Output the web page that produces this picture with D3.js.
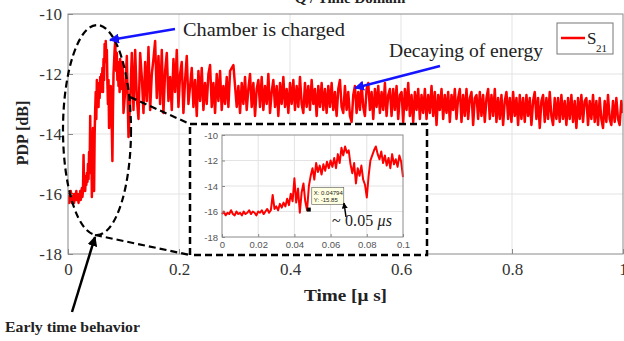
<!DOCTYPE html>
<html>
<head>
<meta charset="utf-8">
<script src="https://cdn.jsdelivr.net/npm/d3@7"></script>
<style>
  body { margin: 0; background: #fff; }
  svg { display: block; }
</style>
</head>
<body>
<div id="chart"></div>
<script>
// early part, sampled every 1 ns (0 .. 0.1 us)
var earlyStep = 0.001;
var earlyPDP = [
  -16.2,-16.0,-16.3,-16.1,-16.2,-15.9,-16.2,-16.3,-16.0,-16.2,
  -16.1,-16.3,-16.0,-16.2,-16.1,-15.9,-16.2,-16.0,-16.1,-16.3,
  -16.0,-16.1,-15.9,-16.2,-16.0,-15.8,-16.1,-15.9,-14.7,-15.8,
  -15.6,-15.9,-15.4,-15.7,-15.3,-15.6,-15.0,-15.5,-14.6,-15.2,
  -13.4,-15.3,-14.2,-16.1,-14.5,-13.8,-15.2,-15.9,-14.0,-13.2,
  -12.6,-13.5,-12.2,-12.9,-12.4,-13.1,-12.3,-12.8,-12.1,-12.6,
  -12.0,-12.5,-11.8,-12.6,-11.5,-12.2,-11.0,-11.6,-10.9,-11.4,
  -11.2,-12.3,-13.0,-12.2,-13.8,-12.6,-13.2,-12.4,-13.5,-13.9,
  -14.9,-13.2,-12.0,-11.6,-11.2,-10.9,-11.5,-11.9,-11.3,-12.2,
  -11.6,-12.4,-11.8,-12.6,-11.5,-12.3,-11.9,-12.5,-11.6,-12.1,-13.3
];
// later part, sampled every 3 ns starting at 0.103 us
var lateStart = 0.103;
var lateStep = 0.003;
var latePDP = [
  -12.6,-11.4,-14.1,-12.9,-11.3,-13.2,-11.2,-12.8,-13.5,-11.3,-12.1,-13.3,-11.6,-12.9,-11.1,-13.2,-12.0,-11.5,-10.9,-12.8,
  -11.4,-13.0,-11.2,-13.3,-11.9,-11.3,-12.9,-12.1,-13.2,-11.5,-12.6,-11.2,-13.1,-12.0,-11.6,-13.3,-12.2,-11.4,-13.0,-12.4,
  -11.8,-13.1,-12.2,-13.4,-11.9,-12.9,-11.8,-13.2,-12.3,-13.0,-12.0,-11.7,-13.1,-12.3,-13.3,-12.0,-12.9,-11.9,-13.2,-12.4,
  -13.0,-12.1,-13.1,-11.9,-11.8,-11.7,-12.4,-13.1,-12.4,-13.3,-12.3,-13.0,-12.1,-13.2,-12.5,-12.0,-13.1,-12.3,-13.4,-12.5,
  -12.2,-13.1,-12.1,-13.2,-12.4,-13.0,-12.0,-13.3,-12.6,-12.2,-13.1,-12.4,-13.4,-12.3,-13.0,-12.1,-13.1,-12.5,-13.3,-12.3,
  -13.0,-12.2,-13.2,-12.4,-13.1,-12.1,-13.0,-13.3,-12.3,-13.1,-12.4,-13.2,-12.2,-13.0,-12.5,-13.4,-12.4,-13.1,-12.3,-13.2,
  -12.5,-13.3,-12.4,-13.1,-12.3,-13.2,-12.6,-13.4,-12.5,-12.2,-13.1,-13.3,-12.4,-13.2,-12.6,-13.4,-13.6,-12.7,-12.4,-13.3,
  -12.6,-13.2,-12.3,-13.1,-13.4,-12.5,-12.3,-13.2,-12.6,-13.5,-12.5,-13.1,-12.4,-13.3,-12.6,-13.2,-12.3,-13.4,-12.7,-12.5,
  -13.4,-12.5,-13.2,-12.4,-13.5,-12.7,-12.6,-13.6,-12.5,-13.2,-12.3,-13.4,-12.7,-13.6,-12.6,-13.2,-12.5,-13.5,-12.7,-13.3,
  -12.5,-13.5,-12.7,-13.3,-12.4,-13.4,-12.6,-13.7,-12.7,-13.2,-12.5,-13.5,-12.7,-13.3,-12.6,-13.6,-12.7,-13.2,-12.5,-13.5,
  -12.8,-12.5,-13.6,-12.7,-13.4,-12.5,-13.5,-12.8,-12.6,-13.7,-12.8,-12.7,-13.5,-12.6,-13.4,-12.7,-13.6,-12.8,-12.5,-13.5,
  -12.7,-13.4,-12.5,-13.6,-12.8,-13.5,-12.7,-13.7,-12.9,-12.6,-13.5,-12.8,-13.6,-12.6,-13.4,-12.8,-13.7,-12.7,-13.5,-12.8,
  -13.6,-12.7,-13.4,-12.8,-13.7,-12.9,-12.6,-13.5,-12.8,-13.8,-12.9,-12.7,-13.6,-12.8,-13.5,-12.6,-13.4,-13.7,-12.8,-13.5,
  -12.8,-13.6,-12.7,-13.5,-12.9,-13.7,-12.8,-13.5,-12.7,-13.6,-12.9,-13.8,-12.8,-13.5,-12.7,-13.6,-12.9,-12.8,-13.7,-12.9,
  -13.5,-12.7,-13.6,-12.9,-13.7,-12.8,-13.5,-13.8,-12.9,-13.6,-12.7,-13.5,-13.7,-12.9,-13.6,-12.8,-13.5,-13.7,-12.9,-13.3
];
var xTicks = [0, 0.2, 0.4, 0.6, 0.8, 1];
var yTicks = [-10, -12, -14, -16, -18];
var insetXTicks = [0, 0.02, 0.04, 0.06, 0.08, 0.1];
var insetYTicks = [-10, -12, -14, -16, -18];
var dataTip = {x: 0.04794, y: -15.85};

var width = 624, height = 341;
var early = earlyPDP.map(function (v, i) { return [i * earlyStep, v]; });
var late = latePDP.map(function (v, i) { return [lateStart + i * lateStep, v]; });
var full = early.concat(late);

var svg = d3.select('#chart').append('svg')
  .attr('width', width)
  .attr('height', height)
  .style('font-family', '"Liberation Serif", serif');

var defs = svg.append('defs');
function marker(id, color) {
  defs.append('marker')
    .attr('id', id)
    .attr('viewBox', '0 0 10 10')
    .attr('refX', 9).attr('refY', 5)
    .attr('markerWidth', 4).attr('markerHeight', 4)
    .attr('orient', 'auto')
    .append('path')
    .attr('d', 'M0,0 L10,5 L0,10 z')
    .attr('fill', color);
}
marker('blueHead', '#1414ff');
marker('blackHead', '#000');

// main axes
var x = d3.scaleLinear().domain([0, 1]).range([68, 623]);
var y = d3.scaleLinear().domain([-18, -10]).range([254, 14]);

defs.append('clipPath').attr('id', 'mainClip')
  .append('rect').attr('x', 68).attr('y', 14).attr('width', 555).attr('height', 240);

// title, mostly outside the crop
svg.append('text')
  .attr('x', 350).attr('y', 3)
  .attr('text-anchor', 'middle')
  .style('font-size', '15px').style('font-weight', 'bold')
  .attr('fill', '#222')
  .text('Q / Time Domain');

var grid = svg.append('g');
grid.selectAll('.vg').data(xTicks.slice(1, -1)).enter().append('line')
  .attr('x1', function (d) { return x(d); }).attr('x2', function (d) { return x(d); })
  .attr('y1', 14).attr('y2', 254)
  .attr('stroke', '#e3e3e3');
grid.selectAll('.hg').data(yTicks.slice(1, -1)).enter().append('line')
  .attr('x1', 68).attr('x2', 623)
  .attr('y1', function (d) { return y(d); }).attr('y2', function (d) { return y(d); })
  .attr('stroke', '#e3e3e3');

var line = d3.line()
  .x(function (d) { return x(d[0]); })
  .y(function (d) { return y(d[1]); });

svg.append('path')
  .datum(full)
  .attr('clip-path', 'url(#mainClip)')
  .attr('d', line)
  .attr('fill', 'none')
  .attr('stroke', '#ff0000')
  .attr('stroke-width', 2.5)
  .attr('stroke-linejoin', 'round');

svg.append('rect')
  .attr('x', 68).attr('y', 14).attr('width', 555).attr('height', 240)
  .attr('fill', 'none').attr('stroke', '#8a8a8a').attr('stroke-width', 1);

var xAxis = svg.append('g')
  .attr('transform', 'translate(0,254)')
  .call(d3.axisBottom(x).tickValues(xTicks).tickSize(-5).tickPadding(9)
    .tickFormat(function (d) { return d === 0 || d === 1 ? d : d3.format('.1f')(d); }));
var yAxis = svg.append('g')
  .attr('transform', 'translate(68,0)')
  .call(d3.axisLeft(y).tickValues(yTicks).tickSize(-5).tickPadding(6)
    .tickFormat(function (d) { return '-' + Math.abs(d); }));
[xAxis, yAxis].forEach(function (g) {
  g.select('.domain').remove();
  g.selectAll('.tick line').attr('stroke', '#8a8a8a');
  g.selectAll('.tick text')
    .style('font-family', '"Liberation Serif", serif')
    .style('font-size', '17px')
    .attr('fill', '#333');
});

svg.append('text')
  .attr('x', 304).attr('y', 301)
  .attr('textLength', 83).attr('lengthAdjust', 'spacingAndGlyphs')
  .style('font-size', '17px').style('font-weight', 'bold')
  .attr('fill', '#222')
  .text('Time [\u03bc s]');
svg.append('text')
  .attr('transform', 'translate(28,133) rotate(-90)')
  .attr('text-anchor', 'middle')
  .style('font-size', '16px').style('font-weight', 'bold')
  .attr('fill', '#222')
  .text('PDP [dB]');

// legend
var leg = svg.append('g');
leg.append('rect')
  .attr('x', 557).attr('y', 23).attr('width', 56).attr('height', 31)
  .attr('fill', '#fff').attr('stroke', '#777');
leg.append('line')
  .attr('x1', 561).attr('x2', 585).attr('y1', 38).attr('y2', 38)
  .attr('stroke', '#ff0000').attr('stroke-width', 2.5);
leg.append('text')
  .attr('x', 587).attr('y', 44)
  .style('font-size', '17px').attr('fill', '#222')
  .text('S');
leg.append('text')
  .attr('x', 596).attr('y', 52)
  .style('font-size', '11px').attr('fill', '#222')
  .text('21');

// early-time ellipse and zoom connectors
var dash = '7,4';
svg.append('ellipse')
  .attr('cx', 97).attr('cy', 130).attr('rx', 34).attr('ry', 105)
  .attr('fill', 'none').attr('stroke', '#000')
  .attr('stroke-width', 2.2).attr('stroke-dasharray', dash);
svg.append('line')
  .attr('x1', 130).attr('y1', 97).attr('x2', 190).attr('y2', 124)
  .attr('stroke', '#000').attr('stroke-width', 2.2).attr('stroke-dasharray', dash);
svg.append('line')
  .attr('x1', 95).attr('y1', 235).attr('x2', 190).attr('y2', 255)
  .attr('stroke', '#000').attr('stroke-width', 2.2).attr('stroke-dasharray', dash);

// inset
var inset = svg.append('g');
inset.append('rect')
  .attr('x', 190).attr('y', 124).attr('width', 237).attr('height', 131)
  .attr('fill', '#fff').attr('stroke', '#000')
  .attr('stroke-width', 2.5).attr('stroke-dasharray', dash);

var ix = d3.scaleLinear().domain([0, 0.1]).range([222, 403]);
var iy = d3.scaleLinear().domain([-18, -10]).range([237, 135]);

inset.selectAll('.ivg').data(insetXTicks.slice(1, -1)).enter().append('line')
  .attr('x1', function (d) { return ix(d); }).attr('x2', function (d) { return ix(d); })
  .attr('y1', 135).attr('y2', 237).attr('stroke', '#e3e3e3');
inset.selectAll('.ihg').data(insetYTicks.slice(1, -1)).enter().append('line')
  .attr('x1', 222).attr('x2', 403)
  .attr('y1', function (d) { return iy(d); }).attr('y2', function (d) { return iy(d); })
  .attr('stroke', '#e3e3e3');

var iline = d3.line()
  .x(function (d) { return ix(d[0]); })
  .y(function (d) { return iy(d[1]); });
inset.append('path')
  .datum(early)
  .attr('d', iline)
  .attr('fill', 'none')
  .attr('stroke', '#ff0000')
  .attr('stroke-width', 2)
  .attr('stroke-linejoin', 'round');

inset.append('rect')
  .attr('x', 222).attr('y', 135).attr('width', 181).attr('height', 102)
  .attr('fill', 'none').attr('stroke', '#8a8a8a');

var ixAxis = inset.append('g')
  .attr('transform', 'translate(0,237)')
  .call(d3.axisBottom(ix).tickValues(insetXTicks).tickSize(-3).tickPadding(4)
    .tickFormat(function (d) { return d === 0 ? '0' : d3.format('.2~f')(d); }));
var iyAxis = inset.append('g')
  .attr('transform', 'translate(222,0)')
  .call(d3.axisLeft(iy).tickValues(insetYTicks).tickSize(-3).tickPadding(4)
    .tickFormat(function (d) { return '-' + Math.abs(d); }));
[ixAxis, iyAxis].forEach(function (g) {
  g.select('.domain').remove();
  g.selectAll('.tick line').attr('stroke', '#8a8a8a');
  g.selectAll('.tick text')
    .style('font-family', '"Liberation Sans", Arial, sans-serif')
    .style('font-size', '9.5px')
    .attr('fill', '#555');
});

// data tip
var tipX = ix(dataTip.x), tipY = iy(dataTip.y);
inset.append('rect')
  .attr('x', tipX - 2).attr('y', tipY - 2).attr('width', 4).attr('height', 4)
  .attr('fill', '#000');
inset.append('rect')
  .attr('x', tipX + 3).attr('y', tipY - 22).attr('width', 32).attr('height', 17)
  .attr('fill', '#ffffe1').attr('stroke', '#555').attr('stroke-width', 0.6);
inset.append('text')
  .attr('x', tipX + 5).attr('y', tipY - 15)
  .style('font-family', '"Liberation Sans", Arial, sans-serif')
  .style('font-size', '6px').attr('fill', '#222')
  .text('X: ' + dataTip.x);
inset.append('text')
  .attr('x', tipX + 5).attr('y', tipY - 8)
  .style('font-family', '"Liberation Sans", Arial, sans-serif')
  .style('font-size', '6px').attr('fill', '#222')
  .text('Y: ' + dataTip.y);

inset.append('line')
  .attr('x1', 346).attr('y1', 217).attr('x2', 344).attr('y2', 203)
  .attr('stroke', '#000').attr('stroke-width', 1.5)
  .attr('marker-end', 'url(#blackHead)');
var lbl = inset.append('text')
  .attr('x', 332).attr('y', 226)
  .attr('textLength', 60).attr('lengthAdjust', 'spacing')
  .style('font-size', '16px').attr('fill', '#222');
lbl.append('tspan').text('~ 0.05 ');
lbl.append('tspan').style('font-style', 'italic').text('\u03bcs');

// annotations
svg.append('text')
  .attr('x', 183).attr('y', 36)
  .attr('textLength', 162).attr('lengthAdjust', 'spacingAndGlyphs')
  .style('font-size', '19px').attr('fill', '#222')
  .text('Chamber is charged');
svg.append('line')
  .attr('x1', 175).attr('y1', 29).attr('x2', 110).attr('y2', 40)
  .attr('stroke', '#1414ff').attr('stroke-width', 2.5)
  .attr('marker-end', 'url(#blueHead)');

svg.append('text')
  .attr('x', 389).attr('y', 57)
  .attr('textLength', 154).attr('lengthAdjust', 'spacingAndGlyphs')
  .style('font-size', '19px').attr('fill', '#222')
  .text('Decaying of energy');
svg.append('line')
  .attr('x1', 440).attr('y1', 66).attr('x2', 355).attr('y2', 88)
  .attr('stroke', '#1414ff').attr('stroke-width', 2.5)
  .attr('marker-end', 'url(#blueHead)');

svg.append('text')
  .attr('x', 5).attr('y', 332)
  .attr('textLength', 135).attr('lengthAdjust', 'spacingAndGlyphs')
  .style('font-size', '15px').style('font-weight', 'bold')
  .attr('fill', '#222')
  .text('Early time behavior');
svg.append('line')
  .attr('x1', 72).attr('y1', 312).attr('x2', 95).attr('y2', 237)
  .attr('stroke', '#000').attr('stroke-width', 2.5)
  .attr('marker-end', 'url(#blackHead)');
</script>
</body>
</html>
